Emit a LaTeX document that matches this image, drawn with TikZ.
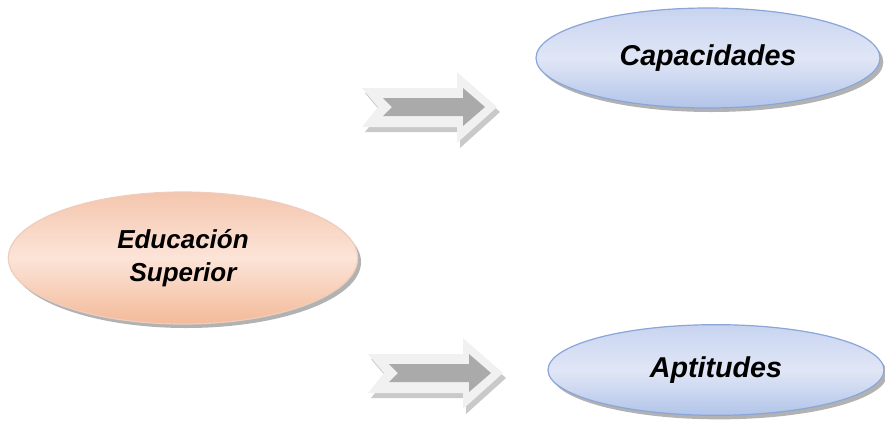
\documentclass[tikz,border=0pt]{standalone}
\usepackage{fontspec}
\setmainfont{Liberation Sans}
\usepackage{tikz}
\usetikzlibrary{shapes.geometric, shadows, positioning}

\definecolor{blueline}{RGB}{138,165,216}
\definecolor{bluetop}{RGB}{200,212,240}
\definecolor{bluemid}{RGB}{224,230,246}
\definecolor{bluebot}{RGB}{178,196,233}
\definecolor{orangeline}{RGB}{238,205,188}
\definecolor{orangetop}{RGB}{244,198,173}
\definecolor{orangemid}{RGB}{252,228,216}
\definecolor{orangebot}{RGB}{243,186,153}
\definecolor{arrowlight}{RGB}{241,241,241}
\definecolor{arrowdark}{RGB}{170,170,170}
\definecolor{arrowshade}{RGB}{165,165,165}

\begin{document}
\begin{tikzpicture}[x=0.75pt, y=-0.75pt,
    oval/.style={ellipse, line width=0.9pt, align=center, inner sep=0pt,
        font=\fontsize{21.5}{25}\selectfont\bfseries\itshape,
        drop shadow={shadow xshift=2.5pt, shadow yshift=-3pt, fill=black, opacity=0.3}},
    blueoval/.style={oval, draw=blueline, top color=bluetop, bottom color=bluebot, middle color=bluemid},
    orangeoval/.style={oval, draw=orangeline, top color=orangetop, bottom color=orangebot, middle color=orangemid,
        font=\fontsize{19.5}{24.5}\selectfont\bfseries\itshape}]

    \useasboundingbox (0,0) rectangle (885,426);

    % --- Ovals ---
    \node[orangeoval, minimum width=262pt, minimum height=99pt] (edu) at (183,258) {Educación\\Superior};
    \node[blueoval, minimum width=258pt, minimum height=75pt] (cap) at (708,58) {Capacidades};
    \node[blueoval, minimum width=252pt, minimum height=68pt] (apt) at (716,370) {Aptitudes};

    % --- Upper block arrow ---
    \begin{scope}[shift={(362,107)}]
        \fill[arrowshade, opacity=0.6] (3,-14) -- (98,-14) -- (98,-30) -- (138,5) -- (98,41) -- (98,25) -- (3,25) -- (19,5) -- cycle;
        \fill[arrowlight] (0,-19) -- (95,-19) -- (95,-35) -- (135,0) -- (95,36) -- (95,20) -- (0,20) -- (16,0) -- cycle;
        \fill[arrowdark] (21,-9) -- (101,-9) -- (101,-19) -- (123,0) -- (101,19) -- (101,9) -- (21,9) -- (30,0) -- cycle;
    \end{scope}

    % --- Lower block arrow ---
    \begin{scope}[shift={(368,373)}]
        \fill[arrowshade, opacity=0.6] (3,-14) -- (98,-14) -- (98,-30) -- (138,5) -- (98,41) -- (98,25) -- (3,25) -- (19,5) -- cycle;
        \fill[arrowlight] (0,-19) -- (95,-19) -- (95,-35) -- (135,0) -- (95,36) -- (95,20) -- (0,20) -- (16,0) -- cycle;
        \fill[arrowdark] (21,-9) -- (101,-9) -- (101,-19) -- (123,0) -- (101,19) -- (101,9) -- (21,9) -- (30,0) -- cycle;
    \end{scope}

\end{tikzpicture}
\end{document}
